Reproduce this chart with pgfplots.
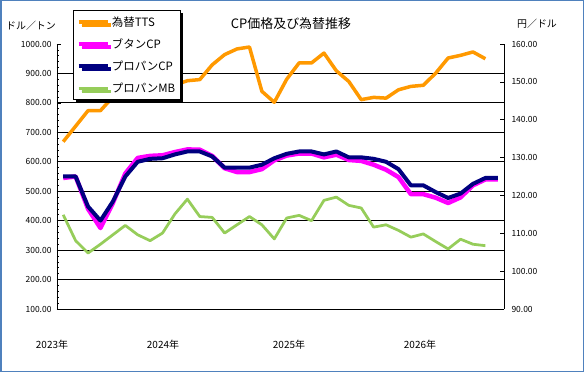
\documentclass[border=0pt]{standalone}
\usepackage{pgfplots}
\pgfplotsset{compat=1.18}
\usepackage{pgfplotstable}
\usepackage{fontspec}
\setmainfont{Noto Sans CJK JP}
\usetikzlibrary{shadows}
\definecolor{ttsc}{RGB}{255,153,0}
\definecolor{butc}{RGB}{255,0,255}
\definecolor{proc}{RGB}{0,0,128}
\definecolor{mbc}{RGB}{150,205,90}
\definecolor{framec}{RGB}{79,129,189}

\pgfplotstableread{
i tts
0 134.2
1 138.3
2 142.4
3 142.4
4 146.0
5 148.0
6 150.5
7 150.6
8 145.3
9 149.2
10 150.3
11 150.6
12 154.5
13 157.2
14 158.7
15 159.2
16 147.5
17 144.6
18 150.7
19 155.0
20 155.0
21 157.6
22 152.9
23 150.1
24 145.3
25 145.9
26 145.7
27 147.9
28 148.8
29 149.1
30 152.3
31 156.3
32 157.0
33 157.9
34 156.1
}\ttsdata

\pgfplotstableread{
i but pro
0 545 550
1 550 550
2 440 448
3 375 400
4 460 465
5 560 550
6 613 600
7 620 610
8 622 612
9 633 625
10 642 635
11 641 635
12 620 618
13 578 580
14 565 580
15 565 580
16 575 590
17 605 612
18 621 627
19 628 635
20 628 635
21 615 625
22 624 635
23 606 615
24 603 615
25 590 610
26 573 600
27 548 575
28 490 520
29 490 520
30 478 497
31 460 477
32 479 492
33 520 525
34 540 545
35 540 545
}\cpdata

\pgfplotstableread{
i mb
0 420
1 332
2 290
3 320
4 352
5 384
6 352
7 332
8 358
9 423
10 473
11 414
12 411
13 358
14 386
15 414
16 386
17 338
18 409
19 418
20 400
21 469
22 480
23 452
24 443
25 378
26 386
27 367
28 344
29 355
30 329
31 304
32 337
33 320
34 315
}\mbdata

\begin{document}
\begin{tikzpicture}
\useasboundingbox (0,0) rectangle (584bp,372bp);
\fill[white] (0,0) rectangle (584bp,372bp);
\draw[framec, line width=1.5bp] (0.75bp,0.75bp) rectangle (583.25bp,371.25bp);

\pgfplotsset{
  common/.style={
    at={(57bp,63bp)}, anchor=south west, scale only axis,
    width=447bp, height=265bp,
    xmin=-0.5, xmax=35.5,
    xtick=\empty,
    tick align=inside,
    major tick length=4bp, minor tick length=2bp,
    tick style={black, line width=0.6bp},
    axis line style={black, line width=0.8bp},
    /pgf/number format/assume math mode=true,
    /pgf/number format/fixed,
    /pgf/number format/fixed zerofill,
    /pgf/number format/precision=2,
    /pgf/number format/1000 sep={},
    yticklabel style={font=\fontsize{8.5}{10}\selectfont},
  }
}

\begin{axis}[common,
  ymin=100, ymax=1000,
  axis y line*=left, axis x line*=bottom,
  ytick={100,200,...,1000}, minor y tick num=4,
  extra y ticks={200,300,...,900},
  extra y tick labels={},
  extra y tick style={grid=major, major tick length=0pt},
  major grid style={black, line width=0.8bp},
  yticklabel style={xshift=-2bp},
]
\addplot[butc, line width=4.5bp, line join=round] table[x=i, y=but] {\cpdata};
\addplot[proc, line width=4bp, line join=round] table[x=i, y=pro] {\cpdata};
\addplot[mbc, line width=2.75bp, line join=round] table[x=i, y=mb] {\mbdata};
\end{axis}

\begin{axis}[common,
  ymin=90, ymax=160,
  axis y line*=right, axis x line=none,
  ytick={90,100,...,160},
  yticklabel style={xshift=4bp},
  legend cell align=left,
  legend style={at={(0.0358,1.128)}, anchor=north west,
    draw=black, line width=0.8bp, fill=white,
    drop shadow={shadow xshift=3bp, shadow yshift=-3bp, fill=black, opacity=1},
    font=\fontsize{11.5}{13}\selectfont,
    inner xsep=3bp, inner ysep=4bp, row sep=7bp},
  legend image code/.code={\draw[#1] (0bp,0bp) -- (29bp,0bp);},
]
\addplot[ttsc, line width=3.5bp, line join=round] table[x=i, y=tts] {\ttsdata};
\addlegendentry{為替TTS}
\addlegendimage{butc, line width=4.5bp}
\addlegendentry{ブタンCP}
\addlegendimage{proc, line width=4bp}
\addlegendentry{プロパンCP}
\addlegendimage{mbc, line width=2.75bp}
\addlegendentry{プロパンMB}
\end{axis}

\node[font=\fontsize{13}{15}\selectfont] at (291bp,348bp) {CP価格及び為替推移};
\node[font=\fontsize{10}{12}\selectfont] at (31bp,346.5bp) {ドル／トン};
\node[font=\fontsize{10}{12}\selectfont] at (537bp,348bp) {円／ドル};
\node[font=\fontsize{10}{12}\selectfont] at (52bp,27bp) {2023年};
\node[font=\fontsize{10}{12}\selectfont] at (163bp,27bp) {2024年};
\node[font=\fontsize{10}{12}\selectfont] at (289bp,27bp) {2025年};
\node[font=\fontsize{10}{12}\selectfont] at (420bp,27bp) {2026年};
\end{tikzpicture}
\end{document}
